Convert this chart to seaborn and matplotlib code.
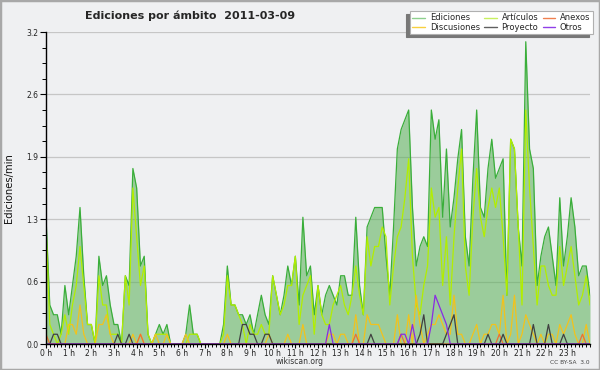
import numpy as np
import pandas as pd
import matplotlib
matplotlib.use("Agg")
import matplotlib.pyplot as plt
import seaborn as sns
from matplotlib.lines import Line2D
from matplotlib.patches import Rectangle
from matplotlib.ticker import MultipleLocator, FixedLocator

# edits per minute, one value per 10-minute slot (00:00 .. 24:00)
ediciones = [
    1.3, 0.4, 0.3, 0.3, 0.1, 0.6, 0.3, 0.6, 0.9, 1.4, 0.7, 0.2,
    0.2, 0.0, 0.9, 0.6, 0.7, 0.4, 0.2, 0.2, 0.0, 0.7, 0.6, 1.8,
    1.6, 0.8, 0.9, 0.1, 0.0, 0.1, 0.2, 0.1, 0.2, 0.0, 0.0, 0.0,
    0.0, 0.1, 0.4, 0.1, 0.1, 0.0, 0.0, 0.0, 0.0, 0.0, 0.0, 0.2,
    0.8, 0.4, 0.4, 0.3, 0.3, 0.2, 0.3, 0.1, 0.3, 0.5, 0.3, 0.2,
    0.7, 0.5, 0.3, 0.5, 0.8, 0.6, 0.9, 0.4, 1.3, 0.7, 0.8, 0.3,
    0.6, 0.3, 0.5, 0.6, 0.5, 0.4, 0.7, 0.7, 0.5, 0.5, 1.3, 0.6,
    0.3, 1.2, 1.3, 1.4, 1.4, 1.4, 0.9, 0.5, 1.2, 2.0, 2.2, 2.3,
    2.4, 1.4, 0.8, 1.0, 1.1, 1.0, 2.4, 2.1, 2.3, 1.3, 2.0, 1.2,
    1.5, 1.9, 2.2, 1.1, 0.8, 1.7, 2.4, 1.4, 1.3, 1.8, 2.1, 1.7,
    1.8, 1.9, 0.5, 2.1, 2.0, 1.2, 0.8, 3.1, 2.0, 1.8, 0.6, 0.9,
    1.1, 1.2, 0.9, 0.6, 1.5, 0.8, 1.1, 1.5, 1.2, 0.7, 0.8, 0.8,
    0.5,
]
articulos = [
    1.2, 0.2, 0.1, 0.0, 0.1, 0.3, 0.1, 0.4, 0.6, 1.0, 0.6, 0.2,
    0.2, 0.0, 0.7, 0.4, 0.4, 0.1, 0.1, 0.1, 0.0, 0.7, 0.4, 1.6,
    1.1, 0.6, 0.8, 0.1, 0.0, 0.1, 0.1, 0.1, 0.1, 0.0, 0.0, 0.0,
    0.0, 0.0, 0.1, 0.1, 0.1, 0.0, 0.0, 0.0, 0.0, 0.0, 0.0, 0.1,
    0.7, 0.4, 0.4, 0.3, 0.2, 0.0, 0.2, 0.1, 0.1, 0.2, 0.1, 0.1,
    0.7, 0.5, 0.3, 0.4, 0.6, 0.6, 0.9, 0.2, 0.5, 0.6, 0.7, 0.1,
    0.6, 0.3, 0.2, 0.2, 0.4, 0.5, 0.6, 0.4, 0.3, 0.5, 0.8, 0.5,
    0.3, 1.1, 0.8, 1.0, 1.0, 1.2, 1.1, 0.4, 0.8, 1.1, 1.2, 1.5,
    1.9, 0.9, 0.4, 0.3, 0.6, 0.8, 1.6, 1.3, 1.4, 0.6, 1.1, 0.4,
    1.1, 1.6, 2.0, 0.8, 0.5, 1.3, 1.8, 1.3, 1.1, 1.4, 1.6, 1.4,
    1.6, 1.1, 0.5, 2.1, 2.0, 1.2, 0.4, 2.4, 1.6, 1.0, 0.4, 0.8,
    0.8, 0.6, 0.5, 0.5, 1.0, 0.6, 0.8, 1.0, 0.7, 0.4, 0.5, 0.7,
    0.4,
]
discusiones = [
    0.0, 0.0, 0.0, 0.0, 0.0, 0.0, 0.2, 0.2, 0.1, 0.4, 0.1, 0.0,
    0.0, 0.0, 0.2, 0.2, 0.3, 0.1, 0.0, 0.0, 0.0, 0.0, 0.0, 0.1,
    0.0, 0.1, 0.0, 0.0, 0.0, 0.1, 0.0, 0.0, 0.1, 0.0, 0.0, 0.0,
    0.0, 0.1, 0.0, 0.0, 0.0, 0.0, 0.0, 0.0, 0.0, 0.0, 0.0, 0.0,
    0.1, 0.0, 0.0, 0.0, 0.0, 0.0, 0.0, 0.0, 0.0, 0.0, 0.0, 0.1,
    0.0, 0.0, 0.0, 0.0, 0.1, 0.0, 0.0, 0.0, 0.2, 0.0, 0.0, 0.0,
    0.0, 0.0, 0.0, 0.1, 0.1, 0.0, 0.1, 0.1, 0.0, 0.0, 0.3, 0.0,
    0.0, 0.3, 0.2, 0.2, 0.2, 0.1, 0.0, 0.0, 0.0, 0.3, 0.0, 0.0,
    0.3, 0.0, 0.5, 0.2, 0.0, 0.1, 0.2, 0.2, 0.3, 0.2, 0.1, 0.1,
    0.5, 0.1, 0.1, 0.0, 0.0, 0.1, 0.2, 0.0, 0.1, 0.1, 0.2, 0.2,
    0.1, 0.5, 0.0, 0.1, 0.5, 0.0, 0.1, 0.3, 0.2, 0.1, 0.0, 0.1,
    0.0, 0.1, 0.1, 0.0, 0.2, 0.1, 0.2, 0.3, 0.1, 0.0, 0.0, 0.2,
    0.0,
]
anexos = [
    0.1, 0.0, 0.0, 0.0, 0.0, 0.0, 0.0, 0.0, 0.0, 0.0, 0.0, 0.0,
    0.0, 0.0, 0.0, 0.0, 0.0, 0.0, 0.0, 0.0, 0.0, 0.0, 0.0, 0.0,
    0.0, 0.1, 0.0, 0.0, 0.0, 0.0, 0.0, 0.0, 0.0, 0.0, 0.0, 0.0,
    0.0, 0.0, 0.0, 0.0, 0.0, 0.0, 0.0, 0.0, 0.0, 0.0, 0.0, 0.0,
    0.0, 0.0, 0.0, 0.0, 0.0, 0.0, 0.0, 0.0, 0.0, 0.0, 0.0, 0.0,
    0.0, 0.0, 0.0, 0.0, 0.0, 0.0, 0.0, 0.0, 0.0, 0.0, 0.0, 0.0,
    0.0, 0.0, 0.0, 0.0, 0.0, 0.0, 0.0, 0.0, 0.0, 0.0, 0.1, 0.0,
    0.0, 0.0, 0.0, 0.0, 0.0, 0.0, 0.0, 0.0, 0.0, 0.0, 0.1, 0.0,
    0.0, 0.0, 0.0, 0.0, 0.0, 0.0, 0.0, 0.0, 0.0, 0.0, 0.0, 0.0,
    0.0, 0.0, 0.0, 0.0, 0.0, 0.0, 0.0, 0.0, 0.0, 0.0, 0.0, 0.0,
    0.1, 0.0, 0.0, 0.0, 0.0, 0.0, 0.0, 0.0, 0.0, 0.0, 0.0, 0.0,
    0.0, 0.0, 0.0, 0.0, 0.0, 0.0, 0.0, 0.0, 0.0, 0.0, 0.1, 0.0,
    0.0,
]
proyecto = [
    0.0, 0.0, 0.1, 0.1, 0.0, 0.0, 0.0, 0.0, 0.0, 0.0, 0.0, 0.0,
    0.0, 0.0, 0.0, 0.0, 0.0, 0.0, 0.0, 0.1, 0.0, 0.0, 0.1, 0.0,
    0.0, 0.0, 0.0, 0.0, 0.0, 0.0, 0.0, 0.0, 0.0, 0.0, 0.0, 0.0,
    0.0, 0.0, 0.0, 0.0, 0.0, 0.0, 0.0, 0.0, 0.0, 0.0, 0.0, 0.0,
    0.0, 0.0, 0.0, 0.0, 0.2, 0.2, 0.1, 0.1, 0.0, 0.0, 0.1, 0.1,
    0.0, 0.0, 0.0, 0.0, 0.0, 0.0, 0.0, 0.0, 0.0, 0.0, 0.0, 0.0,
    0.0, 0.0, 0.0, 0.0, 0.0, 0.0, 0.0, 0.0, 0.0, 0.0, 0.0, 0.0,
    0.0, 0.0, 0.1, 0.0, 0.0, 0.0, 0.0, 0.0, 0.0, 0.0, 0.0, 0.0,
    0.0, 0.0, 0.0, 0.1, 0.3, 0.0, 0.0, 0.0, 0.0, 0.0, 0.1, 0.2,
    0.3, 0.0, 0.0, 0.0, 0.0, 0.0, 0.0, 0.0, 0.0, 0.1, 0.0, 0.0,
    0.0, 0.1, 0.0, 0.0, 0.0, 0.0, 0.0, 0.0, 0.0, 0.2, 0.0, 0.0,
    0.0, 0.2, 0.0, 0.0, 0.0, 0.1, 0.0, 0.0, 0.0, 0.0, 0.0, 0.0,
    0.0,
]
otros = [
    0.0, 0.0, 0.0, 0.0, 0.0, 0.0, 0.0, 0.0, 0.0, 0.0, 0.0, 0.0,
    0.0, 0.0, 0.0, 0.0, 0.0, 0.0, 0.0, 0.0, 0.0, 0.0, 0.0, 0.0,
    0.0, 0.0, 0.0, 0.0, 0.0, 0.0, 0.0, 0.0, 0.0, 0.0, 0.0, 0.0,
    0.0, 0.0, 0.0, 0.0, 0.0, 0.0, 0.0, 0.0, 0.0, 0.0, 0.0, 0.0,
    0.0, 0.0, 0.0, 0.0, 0.0, 0.0, 0.0, 0.0, 0.0, 0.0, 0.0, 0.0,
    0.0, 0.0, 0.0, 0.0, 0.0, 0.0, 0.0, 0.0, 0.0, 0.0, 0.0, 0.0,
    0.0, 0.0, 0.0, 0.2, 0.0, 0.0, 0.0, 0.0, 0.0, 0.0, 0.0, 0.0,
    0.0, 0.0, 0.0, 0.0, 0.0, 0.0, 0.0, 0.0, 0.0, 0.0, 0.1, 0.1,
    0.0, 0.2, 0.0, 0.0, 0.0, 0.0, 0.2, 0.5, 0.4, 0.3, 0.2, 0.0,
    0.0, 0.0, 0.0, 0.0, 0.0, 0.0, 0.0, 0.0, 0.0, 0.0, 0.0, 0.0,
    0.0, 0.0, 0.0, 0.0, 0.0, 0.0, 0.0, 0.0, 0.0, 0.0, 0.0, 0.0,
    0.0, 0.0, 0.0, 0.0, 0.0, 0.0, 0.0, 0.0, 0.0, 0.0, 0.0, 0.0,
    0.0,
]

hour_labels = [f"{h} h" for h in range(24)]
y_ticks = [0.0, 0.64, 1.28, 1.92, 2.56, 3.2]
y_labels = ["0.0", "0.6", "1.3", "1.9", "2.6", "3.2"]

series = {
    "Ediciones": ediciones,
    "Artículos": articulos,
    "Discusiones": discusiones,
    "Anexos": anexos,
    "Proyecto": proyecto,
    "Otros": otros,
}
colors = {
    "Ediciones": "#3aae3a",
    "Artículos": "#b2ee00",
    "Discusiones": "#f2c21c",
    "Anexos": "#f07030",
    "Proyecto": "#404040",
    "Otros": "#8a2be2",
}
legend_colors = {
    "Ediciones": "#8ed08e",
    "Artículos": "#c8f060",
    "Discusiones": "#f8d040",
    "Anexos": "#f08050",
    "Proyecto": "#606060",
    "Otros": "#9040e8",
}
bg = "#eff0f2"

slots = np.arange(len(ediciones))
frames = []
for name, vals in series.items():
    frames.append(pd.DataFrame({"slot": slots, "valor": vals, "ambito": name}))
df = pd.concat(frames, ignore_index=True)

sns.set_style("ticks")
plt.rcParams["font.family"] = ["DejaVu Sans"]

fig = plt.figure(figsize=(6, 3.7), dpi=100, facecolor=bg)
ax = fig.add_axes([46 / 600, 26 / 370, 544 / 600, 312 / 370])
ax.set_facecolor(bg)

ax.fill_between(slots, ediciones, 0, color=(86 / 255, 176 / 255, 84 / 255),
                alpha=0.55, lw=0, zorder=1)
sns.lineplot(data=df, x="slot", y="valor", hue="ambito",
             hue_order=list(series.keys()), palette=colors,
             lw=0.9, legend=False, errorbar=None, ax=ax, zorder=2)

ax.set_xlim(0, len(ediciones) - 1)
ax.set_ylim(0, 3.2)
ax.xaxis.set_major_locator(FixedLocator(np.arange(24) * 6))
ax.set_xticklabels(hour_labels)
ax.xaxis.set_minor_locator(MultipleLocator(1))
ax.yaxis.set_major_locator(FixedLocator(y_ticks))
ax.set_yticklabels(y_labels)
ax.yaxis.set_minor_locator(MultipleLocator(0.16))

ax.tick_params(axis="y", which="major", labelsize=5.5, length=4.3,
               width=0.8, color="black", pad=1, labelcolor="#222222")
ax.tick_params(axis="y", which="minor", length=2.9, width=0.7, color="black")
ax.tick_params(axis="x", which="major", labelsize=5.5, length=3,
               width=0.8, color="black", pad=0.5, labelcolor="#222222")
ax.tick_params(axis="x", which="minor", length=2.2, width=0.7, color="black")
ax.set_axisbelow(True)
ax.grid(axis="y", which="major", color="#c6c6c6", lw=0.9)
for side in ("top", "right"):
    ax.spines[side].set_visible(False)
for side in ("left", "bottom"):
    ax.spines[side].set_color("black")
    ax.spines[side].set_linewidth(1.0)

ax.set_xlabel("")
ax.set_ylabel("")
fig.text(9 / 600, 1 - 188 / 370, "Ediciones/min", fontsize=7.2,
         rotation=90, ha="center", va="center", color="#111111")

fig.text(85 / 600, 1 - 16 / 370, "Ediciones por ámbito  2011-03-09",
         fontsize=8, fontweight="bold", va="center", ha="left")
fig.text(300 / 600, 1 - 362 / 370, "wikiscan.org", fontsize=5.5,
         ha="center", va="center", color="#333333")
fig.text(590 / 600, 1 - 362 / 370, "CC BY-SA  3.0", fontsize=4.2,
         ha="right", va="center", color="#444444")

# legend: white box with a grey drop shadow to the lower left
order = ["Ediciones", "Discusiones", "Artículos", "Proyecto", "Anexos", "Otros"]
handles = [Line2D([], [], color=legend_colors[n], lw=1.0) for n in order]
leg = fig.legend(handles, order, ncol=3, loc="upper right",
                 bbox_to_anchor=(593 / 600, 1 - 11 / 370), fontsize=6,
                 frameon=True, fancybox=False, framealpha=1,
                 edgecolor="#b0b0b0", facecolor="white",
                 shadow={"ox": -3, "oy": -2, "color": "#777777", "alpha": 1},
                 handlelength=1.5, handletextpad=0.6, columnspacing=0.5,
                 labelspacing=0.05, borderpad=0.3, borderaxespad=0)
leg.get_frame().set_linewidth(0.8)

fig.patches.append(Rectangle((0, 0), 1, 1, transform=fig.transFigure,
                             fill=False, edgecolor="#a8a8a8", lw=2.5))

fig.savefig("out.png", dpi=100, facecolor=bg)
